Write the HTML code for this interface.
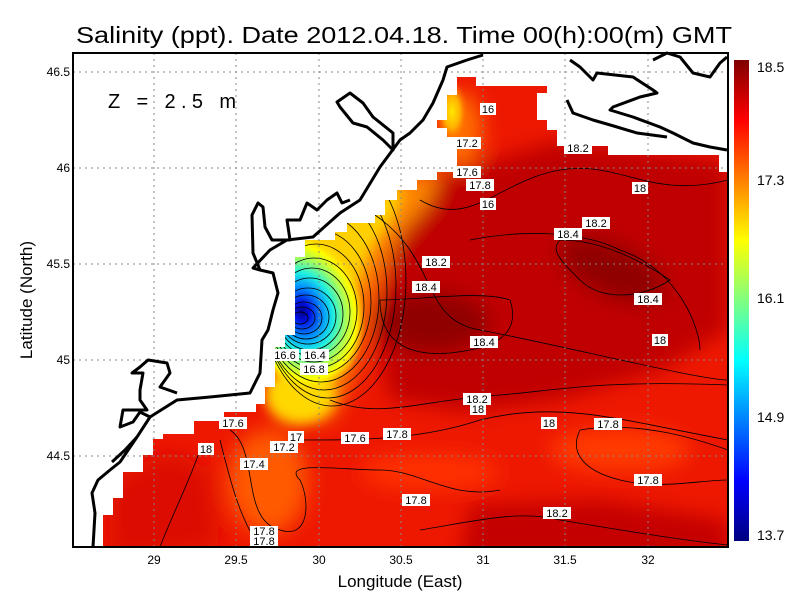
<!DOCTYPE html>
<html><head><meta charset="utf-8"><style>
html,body{margin:0;padding:0;background:#fff;}
svg{display:block;font-family:"Liberation Sans",sans-serif;}
</style></head><body>
<svg width="800" height="600" viewBox="0 0 800 600" xmlns="http://www.w3.org/2000/svg">
<defs>
<clipPath id="m"><path d="M103,547 L103,515 L113,515 L113,498 L123,498 L123,472 L143,472 L143,455 L153,455 L153,439 L163,439 L163,434 L194,434 L194,421 L224,421 L224,412 L256,412 L256,404 L265,404 L265,387 L275,387 L275,347 L285,347 L285,335 L295,335 L295,257 L305,257 L305,240 L335,240 L335,232 L347,232 L347,223 L375,223 L375,215 L385,215 L385,200 L397,200 L397,190 L417,190 L417,180 L437,180 L437,172 L457,172 L457,137 L447,137 L447,128 L437,128 L437,120 L447,120 L447,95 L457,95 L457,77 L476,77 L476,86 L547,86 L547,93 L537,93 L537,120 L547,120 L547,130 L557,130 L557,146 L608,146 L608,155 L719,155 L719,172 L728,172 L728,547 Z"/></clipPath>
<filter id="b" x="-20%" y="-20%" width="140%" height="140%"><feGaussianBlur stdDeviation="10"/></filter>
<filter id="b2" x="-20%" y="-20%" width="140%" height="140%"><feGaussianBlur stdDeviation="6"/></filter>
<radialGradient id="pl" cx="0.5" cy="0.5" r="0.5">
<stop offset="0" stop-color="#00008a"/><stop offset="0.12" stop-color="#0010e0"/><stop offset="0.32" stop-color="#0090ff"/><stop offset="0.5" stop-color="#20f0e0"/><stop offset="0.68" stop-color="#a0ff60"/><stop offset="0.85" stop-color="#ffff00"/><stop offset="1" stop-color="#ffe000" stop-opacity="0"/></radialGradient>
<radialGradient id="yo" cx="0.5" cy="0.5" r="0.5"><stop offset="0" stop-color="#ffe800"/><stop offset="0.5" stop-color="#ffb000"/><stop offset="1" stop-color="#ff6000" stop-opacity="0"/></radialGradient>
<linearGradient id="cb" x1="0" y1="0" x2="0" y2="1">
<stop offset="0" stop-color="#800000"/><stop offset="0.125" stop-color="#ff0000"/><stop offset="0.375" stop-color="#ffff00"/><stop offset="0.5" stop-color="#80ff80"/><stop offset="0.625" stop-color="#00ffff"/><stop offset="0.875" stop-color="#0000ff"/><stop offset="1" stop-color="#000080"/></linearGradient>
</defs>
<rect width="800" height="600" fill="#fff"/>
<g clip-path="url(#m)">
<rect x="60" y="50" width="680" height="510" fill="#ee1800"/>
<g filter="url(#b)">
<path d="M410,185 L560,140 L728,160 L728,330 L660,370 L560,400 L470,412 L390,400 L375,330 L390,260 Z" fill="#c00000"/>
<path d="M470,505 L600,500 L728,520 L728,560 L460,560 Z" fill="#c40000"/>
<path d="M110,480 L170,450 L210,470 L220,547 L110,560 Z" fill="#dc0a00"/>
<ellipse cx="432" cy="322" rx="58" ry="30" fill="#900000"/>
<ellipse cx="612" cy="270" rx="58" ry="26" transform="rotate(25,612,270)" fill="#900000"/>
<ellipse cx="268" cy="482" rx="40" ry="52" fill="#ff5a00"/>
<ellipse cx="620" cy="450" rx="70" ry="22" fill="#ff3a00"/>
<ellipse cx="430" cy="472" rx="70" ry="18" fill="#ff3000"/>
<ellipse cx="460" cy="130" rx="22" ry="38" fill="#ff7000"/>
<path d="M290,240 L380,185 L440,168 L430,200 L395,240 L370,300 L355,370 L330,420 L280,420 Z" fill="#ff8a00"/>
</g>
<g filter="url(#b2)">
<path d="M295,240 L370,200 L405,185 L395,215 L370,250 L350,300 L335,360 L300,400 L280,380 Z" fill="#ffd000"/>
<ellipse cx="300" cy="395" rx="35" ry="28" fill="#ffd800"/>
</g>
<ellipse cx="302" cy="312" rx="62" ry="80" transform="rotate(-15,302,312)" fill="url(#pl)"/>
<ellipse cx="452" cy="112" rx="16" ry="32" fill="url(#yo)"/>
<g fill="none" stroke="#000" stroke-width="0.8">
<ellipse cx="300" cy="318" rx="8" ry="6"/><ellipse cx="302" cy="318" rx="13" ry="11"/><ellipse cx="304" cy="318" rx="18" ry="16"/><ellipse cx="306" cy="317" rx="23" ry="22"/><ellipse cx="308" cy="316" rx="28" ry="28"/><ellipse cx="310" cy="314" rx="33" ry="36"/><ellipse cx="312" cy="312" rx="38" ry="44"/><ellipse cx="314" cy="310" rx="43" ry="52"/><ellipse cx="316" cy="306" rx="48" ry="62"/><ellipse cx="318" cy="302" rx="53" ry="72"/><ellipse cx="321" cy="298" rx="58" ry="84"/><ellipse cx="324" cy="292" rx="63" ry="98"/><ellipse cx="328" cy="286" rx="68" ry="112"/><ellipse cx="332" cy="280" rx="74" ry="126"/>
<path d="M375,215 C440,260 420,320 480,330 C560,345 700,380 728,380"/>
<path d="M420,200 C470,230 500,180 560,170 C620,160 650,200 728,180"/>
<path d="M470,240 C520,230 580,230 620,250 C680,270 700,330 700,350"/>
<path d="M380,300 C380,350 420,360 470,350 C500,345 520,330 510,300 C480,290 420,300 380,300"/>
<path d="M560,240 C600,240 640,260 670,280 C640,300 600,300 580,280 C560,260 550,250 560,240"/>
<path d="M330,400 C380,420 420,400 500,395 C560,390 600,380 728,385"/>
<path d="M300,440 C360,440 420,440 480,420 C560,400 620,420 728,440"/>
<path d="M580,430 C640,420 700,440 728,450 M580,430 C570,450 580,470 620,480 C660,490 700,480 728,480"/>
<path d="M230,430 C260,450 240,520 280,530 C310,540 310,500 300,480 C280,460 340,470 380,470 C420,470 450,500 500,490"/>
<path d="M200,450 C190,480 170,520 160,547 M220,440 C230,480 240,520 260,547"/>
<path d="M420,530 C480,520 520,510 560,520 C620,530 680,540 728,545"/>
</g>
</g>
<g stroke="#888" stroke-width="1" stroke-dasharray="2,4">
<line x1="154" y1="53" x2="154" y2="547"/><line x1="236" y1="53" x2="236" y2="547"/><line x1="319" y1="53" x2="319" y2="547"/><line x1="401" y1="53" x2="401" y2="547"/><line x1="483" y1="53" x2="483" y2="547"/><line x1="565" y1="53" x2="565" y2="547"/><line x1="648" y1="53" x2="648" y2="547"/>
<line x1="73" y1="72" x2="728" y2="72"/><line x1="73" y1="168" x2="728" y2="168"/><line x1="73" y1="264" x2="728" y2="264"/><line x1="73" y1="360" x2="728" y2="360"/><line x1="73" y1="456" x2="728" y2="456"/>
</g>
<g fill="none" stroke="#000" stroke-width="3" stroke-linejoin="round">
<path d="M93,547 L95,513 L92,493 L98,480 L110,470 L120,462 L137,437 L150,417 L177,400 L210,397 L250,393 L260,373 L262,340 L268,330 L273,310 L278,293 L273,273 L260,270 L253,268 L270,250 L287,240 L313,237 L340,213 L360,200 L380,167 L400,140 L410,133 L423,120 L433,103 L443,80 L447,67 L467,60 L483,55"/>
<path d="M337,102 L350,93 L363,103 L373,117 L393,133 L393,150 L383,140 L367,127 L353,123 L340,107 Z"/>
<path d="M260,270 L253,253 L252,215 L258,203 L263,207 L265,227 L272,240 L290,240 L287,220 L300,220 L307,203 L317,210 L327,200 L337,193 L342,203 L350,200"/>
<path d="M150,417 L140,412 L133,422 L120,427 L123,410 L147,410 L140,400 L140,390 L143,373 L132,373 L140,367 L148,360 L167,363 L170,373 L160,387 L177,393"/>
<path d="M137,437 L125,450 L112,462"/>
<path d="M570,60 L580,67 L593,80 L597,73 L633,77 L653,90 L657,93 L640,97 L613,107 L610,110 L633,117 L660,127 L673,133 L693,143 L710,147 L727,150"/>
<path d="M567,100 L573,113 L593,120 L617,127 L637,133 L667,137"/>
<path d="M653,60 L667,53 L680,57 L693,73 L710,77 L720,63 L727,57"/>
</g>
<rect x="73" y="53" width="655" height="494" fill="none" stroke="#000" stroke-width="2"/>
<g font-size="11" text-anchor="middle">
<g fill="#fff">
<rect x="422" y="256" width="28" height="12"/><rect x="412" y="281" width="28" height="12"/><rect x="271" y="349" width="28" height="12"/><rect x="301" y="349" width="28" height="12"/><rect x="300" y="363" width="28" height="12"/><rect x="219" y="417" width="28" height="12"/><rect x="198" y="443" width="16" height="12"/><rect x="288" y="431" width="16" height="12"/><rect x="270" y="441" width="28" height="12"/><rect x="240" y="458" width="28" height="12"/><rect x="341" y="432" width="28" height="12"/><rect x="383" y="428" width="28" height="12"/><rect x="402" y="494" width="28" height="12"/><rect x="250" y="526" width="28" height="20"/>
<rect x="480" y="103" width="16" height="12"/><rect x="453" y="137" width="28" height="12"/><rect x="453" y="166" width="28" height="12"/><rect x="466" y="179" width="28" height="12"/><rect x="480" y="198" width="16" height="12"/><rect x="564" y="142" width="28" height="12"/><rect x="632" y="182" width="16" height="12"/><rect x="582" y="217" width="28" height="12"/><rect x="554" y="228" width="28" height="12"/><rect x="634" y="293" width="28" height="12"/><rect x="470" y="336" width="28" height="12"/><rect x="652" y="334" width="16" height="12"/><rect x="463" y="393" width="28" height="12"/><rect x="470" y="403" width="16" height="12"/><rect x="541" y="417" width="16" height="12"/><rect x="594" y="418" width="28" height="12"/><rect x="634" y="474" width="28" height="12"/><rect x="543" y="507" width="28" height="12"/>
</g>
<text x="436" y="266">18.2</text><text x="426" y="291">18.4</text><text x="285" y="359">16.6</text><text x="315" y="359">16.4</text><text x="314" y="373">16.8</text><text x="233" y="427">17.6</text><text x="206" y="453">18</text><text x="296" y="441">17</text><text x="284" y="451">17.2</text><text x="254" y="468">17.4</text><text x="355" y="442">17.6</text><text x="397" y="438">17.8</text><text x="416" y="504">17.8</text><text x="264" y="535">17.8</text><text x="264" y="545">17.8</text>
<text x="488" y="113">16</text><text x="467" y="147">17.2</text><text x="467" y="176">17.6</text><text x="480" y="189">17.8</text><text x="488" y="208">16</text><text x="578" y="152">18.2</text><text x="640" y="192">18</text><text x="596" y="227">18.2</text><text x="568" y="238">18.4</text><text x="648" y="303">18.4</text><text x="484" y="346">18.4</text><text x="660" y="344">18</text><text x="477" y="403">18.2</text><text x="478" y="413">18</text><text x="549" y="427">18</text><text x="608" y="428">17.8</text><text x="648" y="484">17.8</text><text x="557" y="517">18.2</text>
</g>
<rect x="734" y="60" width="15" height="481" fill="url(#cb)"/>
<g font-size="14" fill="#000">
<text x="757" y="72">18.5</text><text x="757" y="185">17.3</text><text x="757" y="303">16.1</text><text x="757" y="422">14.9</text><text x="757" y="540">13.7</text>
</g>
<g font-size="12" text-anchor="middle">
<text x="154" y="564">29</text><text x="236" y="564">29.5</text><text x="319" y="564">30</text><text x="401" y="564">30.5</text><text x="483" y="564">31</text><text x="565" y="564">31.5</text><text x="648" y="564">32</text>
</g>
<g font-size="12" text-anchor="end">
<text x="70" y="76">46.5</text><text x="70" y="172">46</text><text x="70" y="268">45.5</text><text x="70" y="364">45</text><text x="70" y="460">44.5</text>
</g>
<text x="400" y="587" font-size="17" text-anchor="middle">Longitude (East)</text>
<text transform="translate(32,300) rotate(-90)" font-size="17" text-anchor="middle">Latitude (North)</text>
<text x="108" y="108" font-size="20" textLength="128" lengthAdjust="spacing">Z = 2.5 m</text>
<text x="76" y="43" font-size="23" textLength="656" lengthAdjust="spacingAndGlyphs">Salinity (ppt). Date 2012.04.18. Time 00(h):00(m) GMT</text>
</svg>
</body></html>
